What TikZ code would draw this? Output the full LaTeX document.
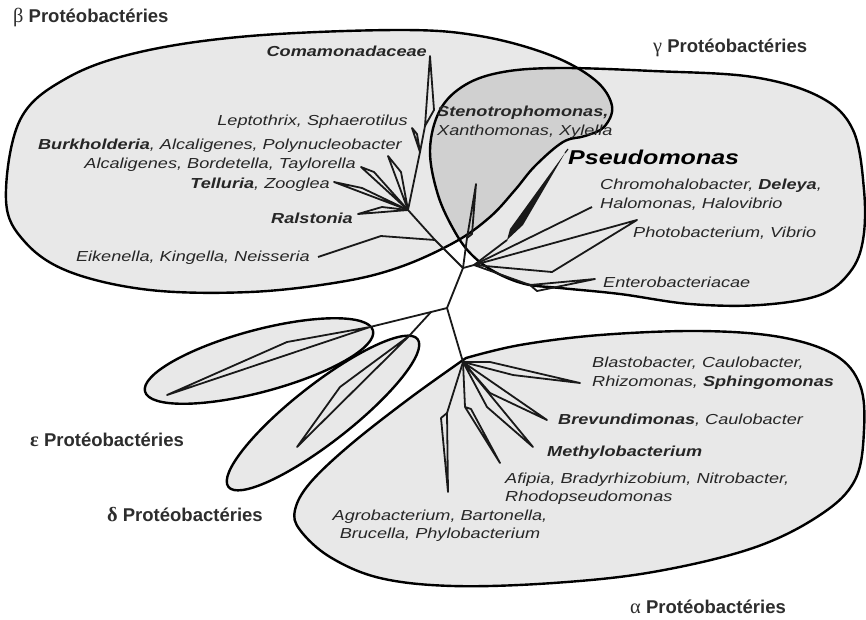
\documentclass[tikz,border=0pt]{standalone}
\usepackage{fontspec}
\setmainfont{Liberation Sans}
\newfontfamily\labfont[FakeStretch=1.25]{Liberation Sans}
\newfontfamily\grkfont[Scale=1.1]{Liberation Serif}
\definecolor{blobgray}{RGB}{232,232,232}
\definecolor{overlapgray}{RGB}{208,208,208}
\definecolor{titlegray}{RGB}{45,45,45}
% outlines of the groups (pixel grid, y downwards)
\newcommand{\betaoutline}{plot[smooth cycle, tension=0.6] coordinates {(6,200) (20,120) (67,78) (140,52) (250,36) (400,30) (480,36) (550,55) (595,80) (612,106) (604,127) (585,136) (563,142) (535,166) (515,190) (490,217) (455,242) (400,267) (340,282) (250,292) (150,290) (70,272) (25,242)}}
\newcommand{\gammaoutline}{plot[smooth cycle, tension=0.6] coordinates {(430,150) (440,110) (465,85) (503,72) (560,68) (653,71) (753,77) (820,97) (853,130) (864,190) (863,240) (850,272) (820,295) (760,305) (690,304) (620,294) (560,288) (525,284) (495,272) (472,255) (455,232) (438,195)}}
\newcommand{\alphaoutline}{plot[smooth, tension=0.6] coordinates {(466,358) (520,345) (600,335) (700,331) (780,337) (835,355) (860,385) (864,430) (855,480) (820,515) (753,548) (653,572) (553,583) (453,586) (380,578) (330,557) (300,530) (295,510) (310,483) (350,445) (410,398) (466,358)} -- cycle}

\begin{document}
\begin{tikzpicture}[
    x=1pt, y=-1pt,
    rim/.style={draw=black, line width=2.4pt},
    branch/.style={draw=black!90, line width=1.8pt, line join=round},
    lab/.style={font=\labfont\itshape\fontsize{14.5}{19}\selectfont, inner sep=0pt, text=black!85},
    grp/.style={font=\bfseries\fontsize{18.5}{21}\selectfont, inner sep=0pt, text=titlegray}
]
    \useasboundingbox (0,0) rectangle (866,619);
    \fill[white] (0,0) rectangle (866,619);

    % --- group areas ---
    \fill[blobgray] \betaoutline;
    \fill[blobgray] \gammaoutline;
    \fill[blobgray] \alphaoutline;
    \fill[blobgray, rotate around={38:(323,413)}] (323,413) ellipse [x radius=120pt, y radius=29pt];
    \fill[blobgray, rotate around={15:(259,361)}] (259,361) ellipse [x radius=118pt, y radius=31pt];
    \begin{scope}
        \clip \betaoutline;
        \fill[overlapgray] \gammaoutline;
    \end{scope}
    \draw[rim] \betaoutline;
    \draw[rim] \gammaoutline;
    \draw[rim] \alphaoutline;
    \draw[rim, rotate around={38:(323,413)}] (323,413) ellipse [x radius=120pt, y radius=29pt];
    \draw[rim, rotate around={15:(259,361)}] (259,361) ellipse [x radius=118pt, y radius=31pt];

    % --- tree: inner nodes ---
    \coordinate (J1) at (463,268);
    \coordinate (J2) at (447,308);
    \coordinate (J3) at (431,312);
    \coordinate (bH) at (408,210);
    \coordinate (bE) at (435,240);
    \coordinate (bC1) at (420,152);
    \coordinate (bC2) at (425,126);
    \coordinate (gH) at (474,265);
    \coordinate (eN) at (370,327);
    \coordinate (dN) at (409,336);
    \coordinate (aH) at (463,362);

    % --- tree: tips ---
    \coordinate (bComa) at (430,56);
    \coordinate (bLepto) at (412,128);
    \coordinate (bBurk) at (388,156);
    \coordinate (bAlca) at (361,167);
    \coordinate (bTell) at (334,182);
    \coordinate (bRals) at (358,214);
    \coordinate (bEike) at (318,257);
    \coordinate (gSteno) at (476,184);
    \coordinate (gPseuB) at (507,240);
    \coordinate (gPseuT) at (565,153);
    \coordinate (gPseu) at (568,149);
    \coordinate (gChromo) at (592,207);
    \coordinate (gPhoto) at (637,220);
    \coordinate (gEntK) at (530,285);
    \coordinate (gEntero) at (595,279);
    \coordinate (eTip) at (167,395);
    \coordinate (dTip) at (297,447);
    \coordinate (aBlasto) at (580,383);
    \coordinate (aBrev) at (547,420);
    \coordinate (aMethyl) at (533,447);
    \coordinate (aAfiK) at (465,407);
    \coordinate (aAfipia) at (500,463);
    \coordinate (aAgroK) at (447,413);
    \coordinate (aAgro) at (448,492);

    % trunk
    \draw[branch] (bH) -- (bE) -- (J1) -- (J2) -- (aH);
    \draw[branch] (J1) -- (gH);
    \draw[branch] (J2) -- (J3) -- (eN);
    \draw[branch] (J3) -- (dN);

    % beta branches
    \draw[branch] (bH) -- (bC1) -- (bC2);
    \draw[branch] (bC2) -- (434,110) -- (bComa) -- cycle;
    \draw[branch] (bC1) -- (417,134) -- (bLepto) -- cycle;
    \draw[branch] (bH) -- (401,172) -- (bBurk) -- cycle;
    \draw[branch] (bH) -- (374,172) -- (bAlca) -- cycle;
    \draw[branch] (bH) -- (362,188) -- (bTell) -- cycle;
    \draw[branch] (bH) -- (382,207) -- (bRals) -- cycle;
    \draw[branch] (bE) -- (381,236) -- (bEike);

    % gamma branches
    \draw[branch] (J1) -- (467,238);
    \draw[branch] (467,238) -- (gSteno) -- (472,234) -- cycle;
    \draw[branch] (gH) -- (gPseuB);
    \fill[black!90] (gPseuB) -- (523,225) -- (gPseuT) -- (510,229) -- cycle;
    \draw[branch, line width=1.2pt] (gPseuT) -- (gPseu);
    \draw[branch] (gH) -- (gChromo);
    \draw[branch] (gH) -- (552,272) -- (gPhoto) -- cycle;
    \draw[branch] (gH) -- (gEntK);
    \draw[branch] (gEntK) -- (gEntero) -- (537,291) -- cycle;

    % epsilon and delta branches
    \draw[branch] (eN) -- (287,342) -- (eTip) -- cycle;
    \draw[branch] (dN) -- (340,387) -- (dTip) -- cycle;

    % alpha branches
    \draw[branch] (aH) -- (490,362) -- (aBlasto) -- (513,375) -- cycle;
    \draw[branch] (aH) -- (490,393) -- (aBrev) -- cycle;
    \draw[branch] (aH) -- (487,407) -- (aMethyl) -- cycle;
    \draw[branch] (aH) -- (aAfiK);
    \draw[branch] (aAfiK) -- (aAfipia) -- (471,409) -- cycle;
    \draw[branch] (aH) -- (aAgroK);
    \draw[branch] (aAgroK) -- (aAgro) -- (441,418) -- cycle;

    % --- beta labels ---
    \node[lab, anchor=east] (lComa) at (427,51) {\textbf{Comamonadaceae}};
    \node[lab, anchor=east] (lLepto) at (408,122) {Leptothrix, Sphaerotilus};
    \node[lab, anchor=east] (lBurk) at (402,146) {\textbf{Burkholderia}, Alcaligenes, Polynucleobacter};
    \node[lab, anchor=east] (lAlca) at (356,165) {Alcaligenes, Bordetella, Taylorella};
    \node[lab, anchor=east] (lTell) at (330,185) {\textbf{Telluria}, Zooglea};
    \node[lab, anchor=east] (lRals) at (353,218) {\textbf{Ralstonia}};
    \node[lab, anchor=east] (lEike) at (310,258) {Eikenella, Kingella, Neisseria};

    % --- gamma labels ---
    \node[lab, anchor=west, align=left] (lSteno) at (437,122) {\textbf{Stenotrophomonas,}\\Xanthomonas, Xylella};
    \node[lab, anchor=west, font=\labfont\bfseries\itshape\fontsize{20}{24}\selectfont, text=black] (lPseu) at (568,157) {Pseudomonas};
    \node[lab, anchor=west, align=left] (lChromo) at (600,195) {Chromohalobacter, \textbf{Deleya},\\Halomonas, Halovibrio};
    \node[lab, anchor=west] (lPhoto) at (633,233) {Photobacterium, Vibrio};
    \node[lab, anchor=west] (lEntero) at (603,282) {Enterobacteriacae};

    % --- alpha labels ---
    \node[lab, anchor=west, align=left] (lBlasto) at (592,373) {Blastobacter, Caulobacter,\\Rhizomonas, \textbf{Sphingomonas}};
    \node[lab, anchor=west] (lBrev) at (558,420) {\textbf{Brevundimonas}, Caulobacter};
    \node[lab, anchor=west] (lMethyl) at (547,453) {\textbf{Methylobacterium}};
    \node[lab, anchor=west, align=left, font=\labfont\itshape\fontsize{14.5}{18}\selectfont] (lAfipia) at (505,489) {Afipia, Bradyrhizobium, Nitrobacter,\\Rhodopseudomonas};
    \node[lab, align=center, font=\labfont\itshape\fontsize{14.5}{18}\selectfont] (lAgro) at (440,526) {Agrobacterium, Bartonella,\\Brucella, Phylobacterium};

    % --- group titles ---
    \node[grp, anchor=west] (tBeta) at (13,17) {{\grkfont\mdseries β} Protéobactéries};
    \node[grp, anchor=west] (tGamma) at (653,48) {{\grkfont\mdseries γ} Protéobactéries};
    \node[grp, anchor=west] (tEps) at (30,440) {{\grkfont ε} Protéobactéries};
    \node[grp, anchor=west] (tDelta) at (107,515) {{\grkfont δ} Protéobactéries};
    \node[grp, anchor=west] (tAlpha) at (630,607) {{\grkfont\mdseries α} Protéobactéries};
\end{tikzpicture}
\end{document}
